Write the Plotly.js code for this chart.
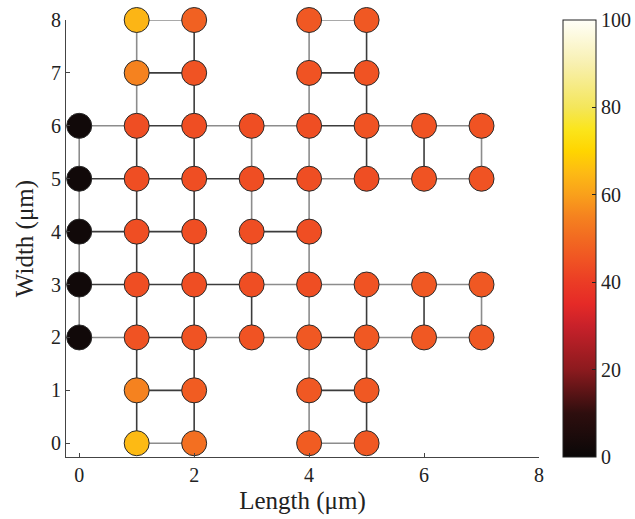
<!DOCTYPE html>
<html>
<head>
<meta charset="utf-8">
<script src="https://cdn.plot.ly/plotly-3.0.1.min.js"></script>
<style>html,body{margin:0;padding:0;background:#fff;}#chart{width:635px;height:519px;}</style>
</head>
<body>
<div id="chart"></div>
<script>
// Node positions (µm) and node values (0-100)
const nodeX = [1,2,4,5, 1,2,4,5, 0,1,2,3,4,5,6,7, 0,1,2,3,4,5,6,7, 0,1,2,3,4, 0,1,2,3,4,5,6,7, 0,1,2,3,4,5,6,7, 1,2,4,5, 1,2,4,5];
const nodeY = [8,8,8,8, 7,7,7,7, 6,6,6,6,6,6,6,6, 5,5,5,5,5,5,5,5, 4,4,4,4,4, 3,3,3,3,3,3,3,3, 2,2,2,2,2,2,2,2, 1,1,1,1, 0,0,0,0];
const nodeVal = [64,48,46,46, 55,45,45,45, 2,44,44,44,44,45,45,45, 2,44,44,44,44,44,45,45, 2,44,44,44,44, 2,44,44,44,44,45,46,46, 2,45,45,45,46,46,46,46, 55,47,46,46, 65,51,47,46];

// Edges between nodes: endpoints and shade (0 = dark, 1 = light grey)
const edgeX1 = [1,4, 1,4, 0,1,2,3,4,5,6, 0,1,2,3,4,5,6, 0,1,3, 0,1,2,3,4,5,6, 0,1,2,3,4,5,6, 1,4, 1,4,
                0,0,0,0, 1,1,1,1,1,1,1,1, 2,2,2,2,2,2,2,2, 3,3,3,3, 4,4,4,4,4,4,4,4, 5,5,5,5,5,5, 6,6, 7,7];
const edgeY1 = [8,8, 7,7, 6,6,6,6,6,6,6, 5,5,5,5,5,5,5, 4,4,4, 3,3,3,3,3,3,3, 2,2,2,2,2,2,2, 1,1, 0,0,
                2,3,4,5, 0,1,2,3,4,5,6,7, 0,1,2,3,4,5,6,7, 2,3,4,5, 0,1,2,3,4,5,6,7, 0,1,2,5,6,7, 2,5, 2,5];
const edgeX2 = [2,5, 2,5, 1,2,3,4,5,6,7, 1,2,3,4,5,6,7, 1,2,4, 1,2,3,4,5,6,7, 1,2,3,4,5,6,7, 2,5, 2,5,
                0,0,0,0, 1,1,1,1,1,1,1,1, 2,2,2,2,2,2,2,2, 3,3,3,3, 4,4,4,4,4,4,4,4, 5,5,5,5,5,5, 6,6, 7,7];
const edgeY2 = [8,8, 7,7, 6,6,6,6,6,6,6, 5,5,5,5,5,5,5, 4,4,4, 3,3,3,3,3,3,3, 2,2,2,2,2,2,2, 1,1, 0,0,
                3,4,5,6, 1,2,3,4,5,6,7,8, 1,2,3,4,5,6,7,8, 3,4,5,6, 1,2,3,4,5,6,7,8, 1,2,3,6,7,8, 3,6, 3,6];
const edgeShade = [1,1, 0,0, 1,0,1,1,0,1,1, 0,0,0,0,1,1,1, 0,0,0, 0,0,0,1,1,1,1, 1,0,1,1,0,1,1, 0,0, 1,1,
                   1,1,1,1, 0,0,0,0,0,0,1,1, 0,0,0,0,0,0,0,0, 0,1,1,1, 1,1,1,1,1,1,1,1, 0,0,0,0,0,0, 0,0, 1,1];

const xTicks = [0,2,4,6,8];
const yTicks = [0,1,2,3,4,5,6,7,8];
const cbTicks = [0,20,40,60,80,100];

const hotScale = [
  [0.00,'#0a0808'],[0.10,'#2e0e0e'],[0.20,'#8c1a1e'],[0.30,'#c8212a'],
  [0.35,'#e52a27'],[0.40,'#eb3c25'],[0.45,'#f05323'],[0.50,'#f26a21'],
  [0.55,'#f5821f'],[0.60,'#f9a01b'],[0.65,'#fdba14'],[0.70,'#ffd500'],
  [0.75,'#fbe51c'],[0.80,'#f4e65a'],[0.90,'#f8f0b0'],[1.00,'#fffff8']
];
const shadeColors = ['#3c3c3c','#8c8c8c'];

const traces = [];
[0,1].forEach(s => {
  const xs = [], ys = [];
  for (let i = 0; i < edgeX1.length; i++) {
    if (edgeShade[i] !== s) continue;
    xs.push(edgeX1[i], edgeX2[i], null);
    ys.push(edgeY1[i], edgeY2[i], null);
  }
  traces.push({x: xs, y: ys, mode: 'lines', type: 'scatter', hoverinfo: 'skip', cliponaxis: false,
    line: {color: shadeColors[s], width: 1.6}, showlegend: false});
});

traces.push({
  x: nodeX, y: nodeY, mode: 'markers', type: 'scatter', showlegend: false, cliponaxis: false,
  marker: {
    size: 25, color: nodeVal, colorscale: hotScale, cmin: 0, cmax: 100,
    line: {color: '#2a2a2a', width: 1},
    showscale: true,
    colorbar: {
      x: 1.051, xanchor: 'left', y: 0.5, yanchor: 'middle', len: 1.0, lenmode: 'fraction',
      thickness: 33, outlinecolor: '#222', outlinewidth: 1,
      tickvals: cbTicks, ticks: 'inside', ticklen: 4, tickcolor: '#222',
      tickfont: {family: 'Liberation Serif, Times New Roman, serif', size: 20, color: '#222'},
      xpad: 0, ypad: 0
    }
  }
});

const fam = 'Liberation Serif, Times New Roman, serif';
const layout = {
  width: 635, height: 519,
  margin: {l: 66, r: 96, t: 20, b: 62, autoexpand: false},
  paper_bgcolor: '#fff', plot_bgcolor: '#fff',
  font: {family: fam, color: '#222'},
  xaxis: {
    range: [-0.23, 8], tickvals: xTicks, showgrid: false, zeroline: false,
    showline: true, linecolor: '#444', linewidth: 1, ticks: 'inside', ticklen: 4, tickcolor: '#444',
    tickfont: {family: fam, size: 20, color: '#222'},
    title: {text: 'Length (μm)', font: {family: fam, size: 25, color: '#222'}, standoff: 6}
  },
  yaxis: {
    range: [-0.26, 8], tickvals: yTicks, showgrid: false, zeroline: false,
    showline: true, linecolor: '#444', linewidth: 1, ticks: 'inside', ticklen: 4, tickcolor: '#444',
    tickfont: {family: fam, size: 20, color: '#222'},
    title: {text: 'Width (μm)', font: {family: fam, size: 25, color: '#222'}, standoff: 10}
  }
};

Plotly.newPlot('chart', traces, layout, {displayModeBar: false, staticPlot: true});
</script>
</body>
</html>
